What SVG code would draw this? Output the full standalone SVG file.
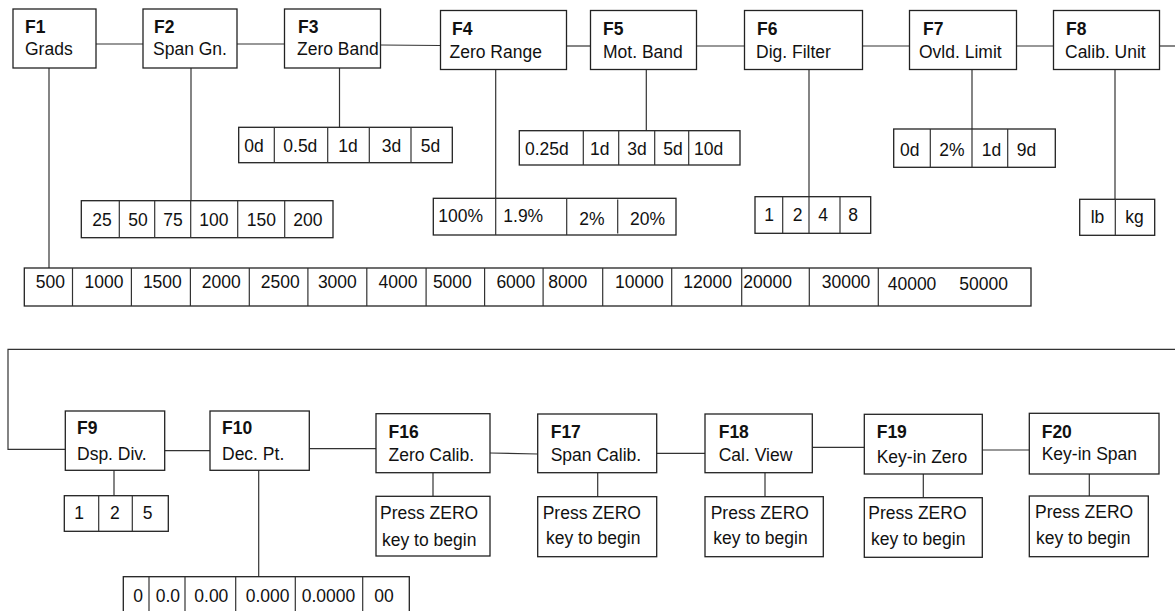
<svg xmlns="http://www.w3.org/2000/svg" width="1175" height="611" viewBox="0 0 1175 611">
<style>
rect{fill:#fff;stroke:#222;stroke-width:1.3}
line,polyline{stroke:#333;stroke-width:1.2;fill:none}
text{font-family:"Liberation Sans",Arial,sans-serif;font-size:17.5px;fill:#111}
.b{font-weight:bold}
</style>
<rect x="0" y="0" width="1175" height="611" style="fill:#fff;stroke:none"/>
<g id="connectors">
<line x1="96" y1="44" x2="143" y2="44"/>
<line x1="237" y1="44" x2="284.5" y2="44"/>
<line x1="380.5" y1="45" x2="440.5" y2="45.5"/>
<line x1="566.5" y1="46" x2="590.5" y2="46"/>
<line x1="696.5" y1="46" x2="744.5" y2="46"/>
<line x1="862.5" y1="46" x2="909.5" y2="46"/>
<line x1="1016.5" y1="46" x2="1053.5" y2="46"/>
<line x1="1159.5" y1="46" x2="1175" y2="46"/>
<line x1="49" y1="68" x2="49" y2="268"/>
<line x1="191" y1="68" x2="191" y2="200.7"/>
<line x1="339.5" y1="68" x2="339.5" y2="127.3"/>
<line x1="495.7" y1="69.5" x2="495.7" y2="198.3"/>
<line x1="646.3" y1="69.5" x2="646.3" y2="130.7"/>
<line x1="809" y1="69.5" x2="809" y2="196.7"/>
<line x1="972" y1="69.5" x2="972" y2="129"/>
<line x1="1115" y1="69.5" x2="1115" y2="199.3"/>
<polyline points="1175,349.3 8,349.3 8,449.3 65.3,449.3"/>
<line x1="164.7" y1="450.7" x2="210" y2="450.7"/>
<line x1="309.3" y1="448.7" x2="376" y2="448.7"/>
<line x1="490" y1="453" x2="537.7" y2="454"/>
<line x1="656.7" y1="453.3" x2="705" y2="453.3"/>
<line x1="812.3" y1="447.3" x2="864.3" y2="447.3"/>
<line x1="982.3" y1="450" x2="1029.3" y2="450"/>
<line x1="114" y1="470.3" x2="114" y2="495.7"/>
<line x1="258.7" y1="470.3" x2="258.7" y2="576.7"/>
<line x1="433" y1="472.7" x2="433" y2="496.3"/>
<line x1="597.7" y1="472.7" x2="597.7" y2="496.7"/>
<line x1="765" y1="472.7" x2="765" y2="496.7"/>
<line x1="923.3" y1="474" x2="923.3" y2="497.7"/>
<line x1="1089.3" y1="474" x2="1089.3" y2="496"/>
</g>
<g id="F1"><rect x="13" y="9" width="83" height="59"/><text class="b" x="25" y="33">F1</text><text x="25" y="55">Grads</text></g>
<g id="F2"><rect x="143" y="9" width="94" height="59"/><text class="b" x="154" y="33">F2</text><text x="153" y="55">Span Gn.</text></g>
<g id="F3"><rect x="284.5" y="9" width="96" height="59"/><text class="b" x="298" y="33">F3</text><text x="297" y="55">Zero Band</text></g>
<g id="F4"><rect x="440.5" y="10.5" width="126" height="59"/><text class="b" x="452" y="35">F4</text><text x="449.5" y="58">Zero Range</text></g>
<g id="F5"><rect x="590.5" y="10.5" width="106" height="59"/><text class="b" x="603" y="35">F5</text><text x="603" y="58">Mot. Band</text></g>
<g id="F6"><rect x="744.5" y="10.5" width="118" height="59"/><text class="b" x="757" y="35">F6</text><text x="756" y="58">Dig. Filter</text></g>
<g id="F7"><rect x="909.5" y="10.5" width="107" height="59"/><text class="b" x="923" y="35">F7</text><text x="919" y="58">Ovld. Limit</text></g>
<g id="F8"><rect x="1053.5" y="10.5" width="106" height="59"/><text class="b" x="1066" y="35">F8</text><text x="1065" y="58">Calib. Unit</text></g>
<g id="F3-values"><rect x="238.7" y="127.3" width="213.6" height="35.4"/>
<line x1="274.3" y1="127.3" x2="274.3" y2="162.7"/><line x1="327.7" y1="127.3" x2="327.7" y2="162.7"/><line x1="369.3" y1="127.3" x2="369.3" y2="162.7"/><line x1="411" y1="127.3" x2="411" y2="162.7"/>
<text x="244.3" y="152">0d</text><text x="283.3" y="152">0.5d</text><text x="338.3" y="152">1d</text><text x="381.7" y="152">3d</text><text x="420.7" y="152">5d</text></g>
<g id="F2-values"><rect x="81.3" y="200.7" width="251.7" height="37"/>
<line x1="119.3" y1="200.7" x2="119.3" y2="237.7"/><line x1="154.7" y1="200.7" x2="154.7" y2="237.7"/><line x1="190.7" y1="200.7" x2="190.7" y2="237.7"/><line x1="237.7" y1="200.7" x2="237.7" y2="237.7"/><line x1="284.7" y1="200.7" x2="284.7" y2="237.7"/>
<text x="92.3" y="226">25</text><text x="128.3" y="226">50</text><text x="163.3" y="226">75</text><text x="199.3" y="226">100</text><text x="246.7" y="226">150</text><text x="293.3" y="226">200</text></g>
<g id="F4-values"><rect x="433.3" y="198.3" width="242.7" height="36.7"/>
<line x1="495.7" y1="198.3" x2="495.7" y2="235"/><line x1="566.7" y1="198.3" x2="566.7" y2="235"/><line x1="617.7" y1="199.5" x2="617.7" y2="233.5"/>
<text x="438.3" y="222">100%</text><text x="503.3" y="222">1.9%</text><text x="579.3" y="225">2%</text><text x="630" y="225">20%</text></g>
<g id="F5-values"><rect x="519.3" y="130.7" width="220.7" height="34.3"/>
<line x1="583.3" y1="130.7" x2="583.3" y2="165"/><line x1="618.7" y1="130.7" x2="618.7" y2="165"/><line x1="654.7" y1="130.7" x2="654.7" y2="165"/><line x1="688.7" y1="130.7" x2="688.7" y2="165"/>
<text x="525" y="155">0.25d</text><text x="590" y="155">1d</text><text x="627.3" y="155">3d</text><text x="663.3" y="155">5d</text><text x="694" y="155">10d</text></g>
<g id="F6-values"><rect x="755" y="196.7" width="115.7" height="36.6"/>
<line x1="782.7" y1="196.7" x2="782.7" y2="233.3"/><line x1="809" y1="196.7" x2="809" y2="233.3"/><line x1="840" y1="196.7" x2="840" y2="233.3"/>
<text x="764.3" y="221">1</text><text x="792.7" y="221">2</text><text x="818.3" y="221">4</text><text x="848.3" y="221">8</text></g>
<g id="F7-values"><rect x="893.7" y="129" width="161.6" height="38.3"/>
<line x1="930.3" y1="129" x2="930.3" y2="167.3"/><line x1="972" y1="129" x2="972" y2="167.3"/><line x1="1007.7" y1="129" x2="1007.7" y2="167.3"/>
<text x="900" y="156">0d</text><text x="939.3" y="156">2%</text><text x="981.7" y="156">1d</text><text x="1016.7" y="156">9d</text></g>
<g id="F8-values"><rect x="1079.7" y="199.3" width="75" height="36"/>
<line x1="1115.3" y1="199.3" x2="1115.3" y2="235.3"/>
<text x="1090.7" y="223">lb</text><text x="1125.3" y="223">kg</text></g>
<g id="F1-values"><rect x="24.3" y="268" width="1006.7" height="38"/>
<line x1="72.5" y1="268" x2="72.5" y2="306"/><line x1="131.4" y1="268" x2="131.4" y2="306"/><line x1="190.4" y1="268" x2="190.4" y2="306"/><line x1="249.3" y1="268" x2="249.3" y2="306"/><line x1="307.9" y1="268" x2="307.9" y2="306"/><line x1="366.8" y1="268" x2="366.8" y2="306"/><line x1="426.1" y1="268" x2="426.1" y2="306"/><line x1="484.6" y1="268" x2="484.6" y2="306"/><line x1="543.1" y1="268" x2="543.1" y2="306"/><line x1="602.7" y1="268" x2="602.7" y2="306"/><line x1="671.7" y1="268" x2="671.7" y2="306"/><line x1="741.7" y1="268" x2="741.7" y2="306"/><line x1="809.3" y1="268" x2="809.3" y2="306"/><line x1="878.3" y1="268" x2="878.3" y2="306"/>
<text x="35.7" y="288">500</text><text x="84.6" y="288">1000</text><text x="142.9" y="288">1500</text><text x="201.8" y="288">2000</text><text x="260.7" y="288">2500</text><text x="317.9" y="288">3000</text><text x="378.6" y="288">4000</text><text x="432.9" y="288">5000</text><text x="496.4" y="288">6000</text><text x="548.3" y="288">8000</text><text x="615" y="288">10000</text><text x="683.3" y="288">12000</text><text x="743.3" y="288">20000</text><text x="821.7" y="288">30000</text><text x="887.7" y="290">40000</text><text x="959.3" y="290">50000</text></g>
<g id="F9"><rect x="65.3" y="411" width="99.4" height="59.3"/><text class="b" x="77" y="434.3">F9</text><text x="77" y="460">Dsp. Div.</text></g>
<g id="F10"><rect x="210" y="411" width="99.3" height="59.3"/><text class="b" x="222" y="434.3">F10</text><text x="222" y="460">Dec. Pt.</text></g>
<g id="F16"><rect x="376" y="413.7" width="114" height="59"/><text class="b" x="388.5" y="437.7">F16</text><text x="388.5" y="461">Zero Calib.</text></g>
<g id="F17"><rect x="537.7" y="414" width="119" height="58.7"/><text class="b" x="550.7" y="437.7">F17</text><text x="550.7" y="460.7">Span Calib.</text></g>
<g id="F18"><rect x="705" y="414" width="107.3" height="58.7"/><text class="b" x="718.7" y="437.7">F18</text><text x="718.7" y="460.7">Cal. View</text></g>
<g id="F19"><rect x="864.3" y="414.3" width="118" height="59.7"/><text class="b" x="876.7" y="438.3">F19</text><text x="876.7" y="463.3">Key-in Zero</text></g>
<g id="F20"><rect x="1029.3" y="413.3" width="129.7" height="60.7"/><text class="b" x="1041.7" y="438.3">F20</text><text x="1041.7" y="460">Key-in Span</text></g>
<g id="F9-values"><rect x="64.3" y="495.7" width="104" height="35.6"/>
<line x1="98.7" y1="495.7" x2="98.7" y2="531.3"/><line x1="132.3" y1="495.7" x2="132.3" y2="531.3"/>
<text x="74.3" y="519">1</text><text x="110" y="519">2</text><text x="142.7" y="519">5</text></g>
<g id="F10-values"><rect x="123.3" y="576.7" width="286" height="36"/>
<line x1="149" y1="576.7" x2="149" y2="612"/><line x1="185" y1="576.7" x2="185" y2="612"/><line x1="235.7" y1="576.7" x2="235.7" y2="612"/><line x1="295.3" y1="576.7" x2="295.3" y2="612"/><line x1="362.7" y1="576.7" x2="362.7" y2="612"/>
<text x="133.3" y="601.7">0</text><text x="155.7" y="601.7">0.0</text><text x="194.3" y="601.7">0.00</text><text x="245.7" y="601.7">0.000</text><text x="301.7" y="601.7">0.0000</text><text x="374.3" y="601.7">00</text></g>
<g id="F16-action"><rect x="376" y="496.3" width="114" height="59.7"/><text x="380" y="519.3">Press ZERO</text><text x="382" y="546">key to begin</text></g>
<g id="F17-action"><rect x="537.7" y="496.7" width="119" height="60"/><text x="542.7" y="519">Press ZERO</text><text x="546" y="544.3">key to begin</text></g>
<g id="F18-action"><rect x="705" y="496.7" width="118.3" height="60"/><text x="710.7" y="519">Press ZERO</text><text x="713.3" y="544.3">key to begin</text></g>
<g id="F19-action"><rect x="864.3" y="497.7" width="118" height="59.6"/><text x="868.3" y="519">Press ZERO</text><text x="871" y="545">key to begin</text></g>
<g id="F20-action"><rect x="1029.3" y="496" width="119" height="60.7"/><text x="1035" y="517.7">Press ZERO</text><text x="1036" y="544">key to begin</text></g>
</svg>
